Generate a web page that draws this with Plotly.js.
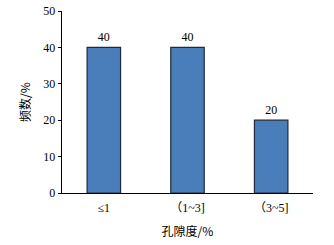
<!DOCTYPE html>
<html><head><meta charset="utf-8">
<script src="https://cdn.plot.ly/plotly-3.0.1.min.js"></script>
<style>body{margin:0;background:#fff}#c{width:334px;height:245px}</style>
</head><body><div id="c"></div>
<script>
const categories = ["≤1", "（1~3]", "（3~5]"];
const values = [40, 40, 20];
const yTicks = [0, 10, 20, 30, 40, 50];

const serif = '"Liberation Serif", "Times New Roman", "Noto Sans CJK SC", serif';
Plotly.newPlot('c', [{
  type: 'bar', x: categories, y: values,
  marker: {color: '#4a7ebb', line: {color: '#1f2a3a', width: 1.2}},
  text: values.map(String), textposition: 'outside', cliponaxis: false,
  textfont: {family: serif, size: 12, color: '#000'},
  hoverinfo: 'none'
}], {
  width: 334, height: 245,
  margin: {l: 62, r: 21, t: 11, b: 52},
  bargap: 0.6,
  paper_bgcolor: '#fff', plot_bgcolor: '#fff',
  showlegend: false,
  font: {family: serif, size: 12, color: '#000'},
  xaxis: {
    showline: true, linecolor: '#000', linewidth: 1.3, ticks: '', showgrid: false,
    tickfont: {family: serif, size: 12}, ticklabelstandoff: 3,
    title: {text: '孔隙度/%', font: {family: '"Noto Sans CJK SC", serif', size: 12}, standoff: 14}
  },
  yaxis: {
    range: [0, 50], tickvals: yTicks, showline: true, linecolor: '#000', linewidth: 1.3,
    ticks: 'outside', ticklen: 3, tickcolor: '#000', showgrid: false, zeroline: false,
    tickfont: {family: serif, size: 12},
    title: {text: '频数/%', font: {family: '"Noto Sans CJK SC", serif', size: 12}, standoff: 10}
  }
}, {staticPlot: true});
</script></body></html>
